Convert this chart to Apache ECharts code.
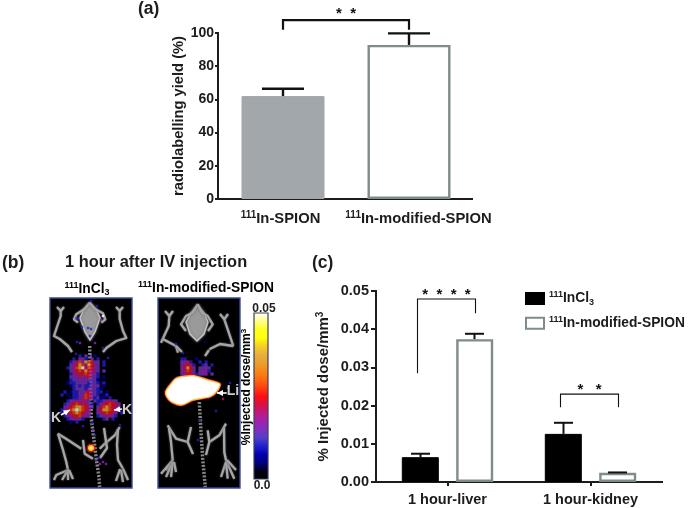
<!DOCTYPE html>
<html><head><meta charset="utf-8">
<style>html,body{margin:0;padding:0;background:#fff}#c{width:690px;height:508px}</style>
<script src="https://cdn.jsdelivr.net/npm/echarts@6/dist/echarts.min.js"></script>
</head><body><div id="c"></div>
<script>
// ---------- data ----------
const yieldCategories = ['111In-SPION', '111In-modified-SPION'];
const yieldValues = [62, 92.8];
const yieldUpper = [66.4, 99.8];
const yieldTicks = [0, 20, 40, 60, 80, 100];
const doseCategories = ['1 hour-liver', '1 hour-kidney'];
const doseInCl3 = [0.0065, 0.0126];
const doseInCl3Upper = [0.0074, 0.0155];
const doseSpion = [0.0374, 0.0024];
const doseSpionUpper = [0.0388, 0.0025];
// brackets: category, top, left end, right end, stars
const bracketYield = [[0, 107.8, 102, 102, '*  *']];
const bracketDose = [[0, 0.0479, 0.0285, 0.0442, '*  *  *  *'], [1, 0.0230, 0.0196, 0.0196, '*   *']];
// PET signal rows, one char per cell (. = none, 1-9 = colour level)
const levelValues = [0, .12, .2, .28, .33, .4, .47, .55, .75, 1];
const petLeft = [
'......2.3..1.........',
'....2.432.3.2........',
'...2357487634.2......',
'...3568758653.2......',
'..23478957643........',
'...3567686553.3......',
'...2456676442........',
'...3345456432.1......',
'...2334343331........',
'..1223343233212......',
'...1232322343.1......',
'....2333243321.......',
'.2.12243564322.1.....',
'2.1.224376332.12.....',
'...122357642311.2....',
'..23454543.32235543..',
'.2356765642.24567663.',
'.3467887643.36787654.',
'2467898765..46887654.',
'2356787654..3567654.2',
'.245667543..2345542..',
'..234532......23.2...',
'...1.2...............'];
const petRight = [
'.....................',
'....22...1...........',
'....3452..2.2........',
'....45652..23.2......',
'....46864.3343.......',
'....45763.3442.......',
'....346542344.3......'];
const spotsLeft = [[28,21,.2],[26,20,.28],[53,18,1],[51,22,.35],[41,31,.2],[38,30,.2],[32,29,.2],[30,45,.35],[45,45,.28],[40,38,.2],[27,44,.2],[53,50,.2],[41,58,.28],[26,56,.2],[58,60,.2],[41,3,.2],[47,8,.2],[53,164,.35],[46,162,.28],[50,166,.35],[49,160,.2],[56,166,.28],[43,132,.28],[45,137,.2],[70,127,.2],[42,125,.2],[33,128,.2]];
const spotsRight = [[18,46,.2],[47,44,.1],[70,90,.28],[65,101,.43],[42,122,.2],[58,113,.2],[40,142,.2],[25,55,.2],[72,85,.2]];
const bladder = [[41,150,.5],[41,150,.85],[41,150,1]];
const liverOutline = [[7.7,93.7],[12,87],[18.7,80],[35,77.7],[50,82],[62,86],[58.7,93.7],[52,98.7],[35,102],[23.7,107],[13.7,104],[8.7,98.7]];
const skullLeft = [[[39.7,5],[46,11],[50,20],[45,34],[40,42],[35,34],[30,20],[34,11]]];
const skullRight = [[[39.7,7],[46,15],[50,24],[46,36],[39,43],[32,36],[28,24],[33,15]]];
const bonesLeft = [
[[10.7,13],[10.7,18],[7.3,28],[4,38],[9.7,41],[18,48],[22,54]],
[[7,9],[10.7,13],[14,9]],
[[69.7,13],[69.7,21],[73,33],[76.3,40],[66.3,43],[56.3,50],[53,54]],
[[66,9],[69.7,13],[73,9]],
[[39.7,4.7],[34.7,11],[26.3,16.3],[24,21.3],[28,24.7]],
[[39.7,4.7],[44.7,11],[53,15.3],[55.3,21.3],[51.3,24.7]],
[[8,135.7],[18,142],[31.3,150.7]],
[[8,135.7],[13,152],[16.3,164],[18,172]],
[[18,172],[6.3,177],[4,182]],[[18,172],[12,182]],[[18,172],[18,182]],[[19,172],[23,181]],
[[33,142],[34.7,155.7],[43,160.7]],
[[69.7,129],[64.7,137.3],[54.7,145.7],[49.7,150.7]],
[[68,131],[67,147],[68,162],[73,170.7]],
[[73,170.7],[78,182]],[[71,172],[73,184]],[[70,171],[66,183]],
[[54,130],[57,150],[50,160]]];
const bonesRight = [
[[11.3,18],[10.7,28],[4.7,41],[3,44.7]],[[7,13],[11.3,18],[15,13]],
[[4.7,41],[18,48],[20,54.7]],
[[66.3,21.3],[69.7,31.3],[75.3,48]],[[62,16],[66.3,21.3],[70,16]],
[[75.3,48],[62,46],[51.3,51.3]],
[[39.7,6.3],[34.7,14.7],[28,18],[23,26.3],[28,33]],
[[39.7,6.3],[44,14.7],[49.7,18],[54.7,26.3],[50,33]],
[[18,48],[24,54]],[[51,52],[47,58]],
[[9.7,127.3],[18,140.7],[29.7,144]],
[[11,130],[13,144],[14.7,162.3],[8,172.3]],
[[14.7,162.3],[3,175.7]],[[14.7,164],[8,179]],[[14.7,164],[13,179]],[[16,164],[18,174]],
[[68,125.7],[61.3,137.3],[51.3,144]],
[[66,130],[66.3,154],[68,162.3],[76.3,180.7]],
[[68,164],[63,179]],[[68,164],[69.7,180.7]],[[69,162],[78,172]],
[[33,129],[29.7,144],[35,156]],[[49.7,132.3],[51.3,144],[48,157]]];
const spineLeft = [[[39.7,48],[41.3,120.7],[43,134],[46.3,160.7],[48.7,177],[49.7,189]]];
const spineRight = [[[41.3,104],[43,134],[44.7,160.7],[47.3,189]]];
const arrowsLeft = [[[11,117],[19.7,112]],[[72,111],[64,112]]];
const arrowsRight = [[[68.7,95],[59,95]]];
const labelsLeft = [[6,120,'K'],[77,112,'K']];
const labelsRight = [[75,93,'Li']];
const colourStops = ['#000000','#000010','#000080','#0000b0','#2020d0','#5040c8','#8030c0','#a020b0','#c01880','#d81040','#ff1010','#ff4010','#ff6a10','#f88818','#e8a030','#e8b040','#f8d020','#ffff10','#ffff20','#ffff90','#ffffff'];

// ---------- helpers ----------
const FONT = '"Liberation Sans", Arial, sans-serif';
const DARK = '#1c1c1c', GREY = '#7f8c8c';
function rich(size) {
  const base = {fontFamily: FONT, fontWeight: 'bold', color: DARK};
  return {
    s: {...base, fontSize: Math.round(size * .68), verticalAlign: 'top', lineHeight: size + 3},
    t: {...base, fontSize: size, lineHeight: size + 3},
    u: {...base, fontSize: Math.round(size * .68), verticalAlign: 'bottom', lineHeight: size + 3},
    g: {width: 19, fontSize: size},
    h: {width: 5, fontSize: size}
  };
}
function parseRows(rows, x0, y0, step) {
  const out = [];
  rows.forEach((r, j) => [...r].forEach((c, i) => {
    if (c !== '.') out.push([x0 + i * step, y0 + j * step, levelValues[+c] * 0.05]);
  }));
  return out;
}
const scaleSpots = a => a.map(p => [p[0], p[1], p[2] * 0.05]);
function errorSeries(name, g, data, offset, cap, lw) {
  return {name, type: 'custom', xAxisIndex: g, yAxisIndex: g, z: 5, silent: true,
    data,
    renderItem(params, api) {
      const top = api.coord([api.value(0), api.value(2)]);
      const low = api.coord([api.value(0), api.value(1)]);
      const x = top[0] + offset, st = {stroke: '#111', lineWidth: lw, fill: null};
      return {type: 'group', children: [
        {type: 'line', shape: {x1: x, y1: low[1], x2: x, y2: top[1]}, style: st},
        {type: 'line', shape: {x1: x - cap / 2, y1: top[1], x2: x + cap / 2, y2: top[1]}, style: st}
      ]};
    }};
}
function bracketSeries(g, data, lft, rgt, lw, fs, gap) {
  return {name: 'brackets' + g, type: 'custom', xAxisIndex: g, yAxisIndex: g, z: 6, silent: true,
    data: data.map(d => [d[0], d[1], d[2], d[3]]),
    renderItem(params, api) {
      const c = api.value(0);
      const topP = api.coord([c, api.value(1)]);
      const lp = api.coord([c, api.value(2)]), rp = api.coord([c, api.value(3)]);
      const x1 = topP[0] + lft, x2 = topP[0] + rgt;
      return {type: 'group', children: [
        {type: 'polyline', shape: {points: [[x1, lp[1]], [x1, topP[1]], [x2, topP[1]], [x2, rp[1]]]},
         style: {stroke: '#111', lineWidth: lw, fill: null}},
        {type: 'text', style: {text: data[params.dataIndex][4], x: (x1 + x2) / 2, y: topP[1] - gap,
          align: 'center', verticalAlign: 'middle', font: 'bold ' + fs + 'px ' + FONT, fill: '#111'}}
      ]};
    }};
}
function panelAxis(i) {
  return {x: {type: 'value', gridIndex: i, min: 0, max: 82, show: false},
          y: {type: 'value', gridIndex: i, min: 0, max: 190, inverse: true, show: false}};
}
function pathSeries(ax, paths, style, z, arrow, closed) {
  return {type: 'custom', xAxisIndex: ax, yAxisIndex: ax, silent: true, z,
    data: paths.map((p, i) => [p[0][0], p[0][1], i]),
    renderItem(params, api) {
      const pts = paths[params.dataIndex].map(p => api.coord(p));
      const kids = [{type: closed ? 'polygon' : 'polyline', shape: {points: pts}, style: closed ? style : {fill: null, ...style}}];
      if (arrow) {
        const a = pts[pts.length - 2], b = pts[pts.length - 1];
        const t = Math.atan2(b[1] - a[1], b[0] - a[0]), L = 6, W = 3;
        const bx = b[0] - L * Math.cos(t), by = b[1] - L * Math.sin(t);
        kids.push({type: 'polygon', shape: {points: [b,
          [bx - W * Math.sin(t), by + W * Math.cos(t)], [bx + W * Math.sin(t), by - W * Math.cos(t)]]},
          style: {fill: style.stroke}});
      }
      return {type: 'group', children: kids};
    }};
}
function petSeries(ax, bones, skull, spine, cells, spots, arrows, labels) {
  return [
    pathSeries(ax, skull, {fill: '#9a9a9a', stroke: '#c4c4c4', lineWidth: 1.5, shadowBlur: 3, shadowColor: '#777'}, 2, false, true),
    pathSeries(ax, bones, {stroke: '#a6a6a6', lineWidth: 2.3, lineJoin: 'round', shadowBlur: 2, shadowColor: '#666'}, 2),
    pathSeries(ax, spine, {stroke: '#a8a8a8', lineWidth: 3.5, lineDash: [2, 1.5], opacity: .8}, 2),
    {type: 'scatter', xAxisIndex: ax, yAxisIndex: ax, symbol: 'rect', symbolSize: 3.3, data: cells, z: 3, silent: true, pet: true},
    {type: 'scatter', xAxisIndex: ax, yAxisIndex: ax, symbol: 'rect', symbolSize: 2.4, data: scaleSpots(spots), z: 3, silent: true, pet: true},
    pathSeries(ax, arrows, {stroke: '#fff', lineWidth: 1.6}, 8, true),
    {type: 'scatter', xAxisIndex: ax, yAxisIndex: ax, symbolSize: 1, itemStyle: {color: 'transparent'}, silent: true, z: 9,
     data: labels, label: {show: true, position: 'inside', formatter: p => p.value[2], color: '#fff',
       fontFamily: FONT, fontWeight: 'bold', fontSize: 14}}
  ];
}

// ---------- option ----------
const pa = panelAxis(2), pb = panelAxis(3);
const series = [
  {name: 'radiolabelling yield', type: 'bar', xAxisIndex: 0, yAxisIndex: 0, barWidth: 83, z: 3, silent: true,
   data: [
     {value: yieldValues[0], itemStyle: {color: '#a2a7ac', borderColor: '#a2a7ac', borderWidth: 1}},
     {value: yieldValues[1], itemStyle: {color: '#fff', borderColor: GREY, borderWidth: 2.4}}
   ]},
  errorSeries('yield error', 0, yieldValues.map((v, i) => [i, v, yieldUpper[i]]), 0, 42, 2.4),
  bracketSeries(0, bracketYield, 0, 126, 2.2, 15, 6),
  {name: '111InCl3', type: 'bar', xAxisIndex: 1, yAxisIndex: 1, barWidth: 37, barGap: '47%', z: 3, silent: true,
   data: doseInCl3, itemStyle: {color: '#000', borderColor: '#000', borderWidth: 1}},
  {name: '111In-modified-SPION', type: 'bar', xAxisIndex: 1, yAxisIndex: 1, barWidth: 37, barGap: '47%', z: 3, silent: true,
   data: doseSpion, itemStyle: {color: '#fff', borderColor: GREY, borderWidth: 2.4}},
  errorSeries('InCl3 error', 1, doseInCl3.map((v, i) => [i, v, doseInCl3Upper[i]]), -27, 19, 2),
  errorSeries('SPION error', 1, doseSpion.map((v, i) => [i, v, doseSpionUpper[i]]), 27, 19, 2),
  bracketSeries(1, bracketDose, -30, 28, 1.1, 15, 4),
  ...petSeries(2, bonesLeft, skullLeft, spineLeft, parseRows(petLeft, 12, 58, 3), spotsLeft, arrowsLeft, labelsLeft),
  ...petSeries(3, bonesRight, skullRight, spineRight, parseRows(petRight, 12, 58, 3), spotsRight, arrowsRight, labelsRight),
  {type: 'scatter', xAxisIndex: 2, yAxisIndex: 2, silent: true, z: 4, pet: true,
   symbolSize: (v) => v[2] > .045 ? 3 : v[2] > .03 ? 6 : 9, data: scaleSpots(bladder)},
  {name: 'liver', type: 'custom', xAxisIndex: 3, yAxisIndex: 3, z: 5, silent: true, data: [[0, 0]],
   renderItem(params, api) {
     const pts = liverOutline.map(p => api.coord(p));
     return {type: 'group', children: [
       {type: 'polygon', shape: {points: pts, smooth: .25}, style: {fill: '#fff', stroke: '#c01850', lineWidth: 2.6}},
       {type: 'polygon', shape: {points: pts, smooth: .25}, style: {fill: '#fff', stroke: '#ffc020', lineWidth: 1.2}}
     ]};
   }}
];
const petIdx = series.map((s, i) => s.pet ? i : -1).filter(i => i >= 0);
const axisText = size => ({fontFamily: FONT, fontWeight: 'bold', fontSize: size, color: DARK});
const axisLine = {show: true, onZero: false, lineStyle: {color: DARK, width: 2, cap: 'square'}};
const fmtCat = (v, i) => (i === 1 ? '{g| }' : '') + '{s|111}{t|' + v.slice(3) + '}' + (i === 0 ? '{h| }' : '');

const option = {
  backgroundColor: '#fff',
  animation: false,
  textStyle: {fontFamily: FONT},
  grid: [
    {left: 220, top: 33, width: 252, height: 166},
    {left: 376, top: 291, width: 286, height: 191},
    {left: 50, top: 298, width: 82, height: 190, show: true, backgroundColor: '#000', borderColor: '#3a4a9a', borderWidth: 1.4},
    {left: 158, top: 298, width: 82, height: 190, show: true, backgroundColor: '#000', borderColor: '#3a4a9a', borderWidth: 1.4}
  ],
  xAxis: [
    {type: 'category', gridIndex: 0, data: yieldCategories, axisLine, axisTick: {show: false},
     axisLabel: {interval: 0, hideOverlap: false, formatter: fmtCat, margin: 11, rich: rich(14.8), ...axisText(14.8)}},
    {type: 'category', gridIndex: 1, data: doseCategories,
     axisLine, axisTick: {show: true, alignWithLabel: true, length: 4, lineStyle: {color: DARK, width: 2}},
     axisLabel: {interval: 0, margin: 10, ...axisText(14.5)}},
    pa.x, pb.x
  ],
  yAxis: [
    {type: 'value', gridIndex: 0, min: 0, max: 100, interval: 20, offset: 2, splitLine: {show: false}, axisLine,
     axisTick: {show: true, length: 3, lineStyle: {color: DARK, width: 2}},
     axisLabel: {margin: 4, ...axisText(14), formatter: v => String(yieldTicks[v / 20])},
     name: 'radiolabelling yield (%)', nameLocation: 'middle', nameGap: 28, nameRotate: 90,
     nameTextStyle: axisText(14.7)},
    {type: 'value', gridIndex: 1, min: 0, max: 0.05, interval: 0.01, splitLine: {show: false}, axisLine,
     axisTick: {show: true, length: 5, lineStyle: {color: DARK, width: 2}},
     axisLabel: {margin: 7, ...axisText(14.5), formatter: v => v.toFixed(2)},
     name: '{t|% Injected dose/mm}{s|3}', nameLocation: 'middle', nameGap: 43, nameRotate: 90,
     nameTextStyle: {...axisText(15), rich: rich(15)}},
    pa.y, pb.y
  ],
  legend: {
    left: 525, top: 290, padding: 0, orient: 'vertical', icon: 'rect', itemWidth: 18, itemHeight: 11, itemGap: 8, selectedMode: false,
    data: ['111InCl3', '111In-modified-SPION'],
    formatter: n => n === '111InCl3' ? '{s|111}{t|InCl}{u|3}' : '{s|111}{t|In-modified-SPION}',
    textStyle: {rich: rich(13.8), ...axisText(13.8)}
  },
  visualMap: {
    type: 'continuous', show: false, min: 0, max: 0.05, dimension: 2,
    seriesIndex: petIdx, inRange: {color: colourStops}
  },
  graphic: [
    {type: 'rect', z: 100, silent: true, shape: {x: 254, y: 313, width: 14, height: 166},
     style: {fill: new echarts.graphic.LinearGradient(0, 1, 0, 0,
        colourStops.map((color, i) => ({offset: i / (colourStops.length - 1), color}))),
       stroke: '#3b3f55', lineWidth: 1.2}},
    ...[
      ['(a)', 138, 9], ['(b)', 2, 263], ['(c)', 312, 263]
    ].map(t => ({type: 'text', z: 100, silent: true, style: {text: t[0], x: t[1], y: t[2], font: 'bold 17.5px ' + FONT, fill: DARK, verticalAlign: 'middle'}})),
    {type: 'text', z: 100, silent: true, style: {text: '1 hour after IV injection', x: 65, y: 262, font: 'bold 16.4px ' + FONT, fill: DARK, verticalAlign: 'middle'}},
    {type: 'text', z: 100, silent: true, style: {text: '{s|111}{t|InCl}{u|3}', x: 87, y: 289, align: 'center', verticalAlign: 'middle', rich: rich(13.8)}},
    {type: 'text', z: 100, silent: true, style: {text: '{s|111}{t|In-modified-SPION}', x: 206, y: 288, align: 'center', verticalAlign: 'middle', rich: rich(13.8)}},
    {type: 'text', z: 100, silent: true, style: {text: '0.05', x: 264, y: 309, align: 'center', verticalAlign: 'middle', font: 'bold 12px ' + FONT, fill: DARK}},
    {type: 'text', z: 100, silent: true, style: {text: '0.0', x: 262, y: 486, align: 'center', verticalAlign: 'middle', font: 'bold 12px ' + FONT, fill: DARK}},
    {type: 'text', z: 100, silent: true, x: 247, y: 387, rotation: Math.PI / 2,
     style: {text: '{t|%Injected dose/mm}{s|3}', align: 'center', verticalAlign: 'middle', rich: rich(12)}}
  ],
  series
};
const chart = echarts.init(document.getElementById('c'), null, {renderer: 'canvas'});
chart.setOption(option);
</script></body></html>
